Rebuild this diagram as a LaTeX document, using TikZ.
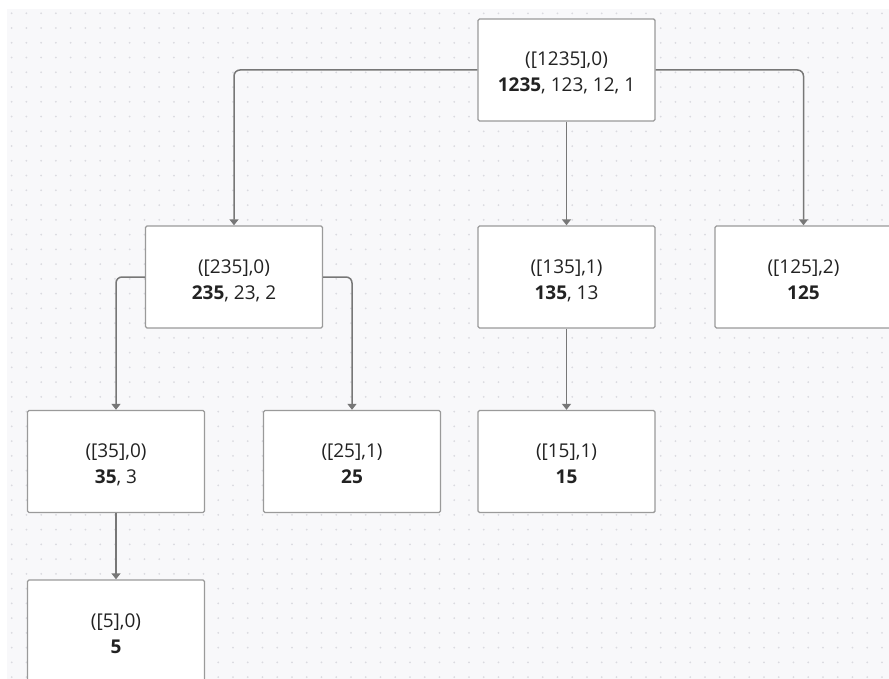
\documentclass[tikz,border=0pt]{standalone}
\usepackage{fontspec}
\setmainfont{Open Sans}
\usetikzlibrary{arrows.meta}
\definecolor{canvas}{HTML}{F8F8FA}
\definecolor{griddot}{HTML}{DADAE0}
\definecolor{boxline}{HTML}{9A9A9A}
\definecolor{wire}{HTML}{777777}
\definecolor{ink}{HTML}{222222}

\begin{document}
\begin{tikzpicture}[x=1pt,y=-1pt,
  state/.style={draw=boxline, line width=1.4pt, fill=white, rounded corners=1.5pt,
    minimum width=177pt, minimum height=102pt, inner sep=0pt, align=center,
    font=\fontsize{19}{26}\selectfont, text=ink,
    text height=48pt, text depth=4pt},
  link/.style={draw=wire, line width=1.5pt, rounded corners=6pt,
    -{Triangle[width=9pt,length=6pt]}}]

  % canvas with dotted grid
  \useasboundingbox (0,0) rectangle (889,679);
  \fill[white] (0,0) rectangle (889,679);
  \fill[canvas] (7,9) rectangle (889,679);
  \foreach \i in {0,...,59}
    \foreach \j in {0,...,45}
      \fill[griddot] (11.7+14.75*\i, 13.3+14.75*\j) circle (1pt);

  \begin{scope}
    \clip (0,0) rectangle (889,679);

    % search tree states
    \node[state] (n1235) at (566.5,70)  {([1235],0)\\\textbf{1235}, 123, 12, 1};
    \node[state] (n235)  at (234,277)   {([235],0)\\\textbf{235}, 23, 2};
    \node[state] (n135)  at (566.5,277) {([135],1)\\\textbf{135}, 13};
    \node[state] (n125)  at (803.5,277) {([125],2)\\\textbf{125}};
    \node[state] (n35)   at (116,461.5) {([35],0)\\\textbf{35}, 3};
    \node[state] (n25)   at (352,461.5) {([25],1)\\\textbf{25}};
    \node[state] (n15)   at (566.5,461.5) {([15],1)\\\textbf{15}};
    \node[state] (n5)    at (116,631)   {([5],0)\\\textbf{5}};

    % branches
    \draw[link] (n1235.west) -| (n235.north);
    \draw[link] (n1235.south) -- (n135.north);
    \draw[link] (n1235.east) -| (n125.north);
    \draw[link] (n235.west) -| (n35.north);
    \draw[link] (n235.east) -| (n25.north);
    \draw[link] (n135.south) -- (n15.north);
    \draw[link] (n35.south) -- (n5.north);
  \end{scope}
\end{tikzpicture}
\end{document}
